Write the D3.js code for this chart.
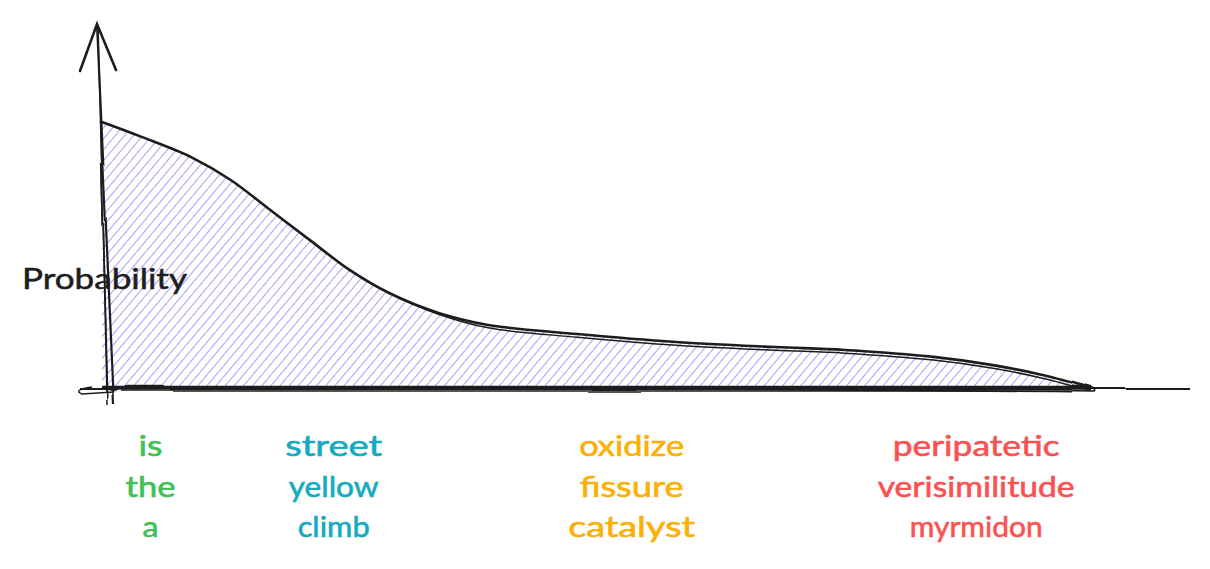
<!DOCTYPE html>
<html>
<head>
<meta charset="utf-8">
<script src="https://cdn.jsdelivr.net/npm/d3@7"></script>
<style>
  html, body { margin: 0; padding: 0; background: #ffffff; }
  svg { display: block; }
</style>
</head>
<body>
<script>
// word rank (0..100) and probability along the curve
var ranks = [0, 4, 9, 13, 17, 21, 25, 29, 34, 39, 48, 58, 68, 75, 84, 90, 95, 100];
var probs = [1.0, 0.944, 0.868, 0.782, 0.669, 0.556, 0.444, 0.357, 0.282, 0.237, 0.203, 0.173, 0.154, 0.143, 0.117, 0.086, 0.049, 0.0];

// word groups under the axis
var groupRanks = [4.9, 23.4, 53.5, 88.3];
var groupColors = ['#40c057', '#15aabf', '#fab005', '#fa5252'];
var groupWords = [
    ['is', 'the', 'a'],
    ['street', 'yellow', 'climb'],
    ['oxidize', 'fissure', 'catalyst'],
    ['peripatetic', 'verisimilitude', 'myrmidon']
];
var wordWidths = [
    [24, 50, 16],
    [97, 90, 72],
    [105, 104, 127],
    [167, 197, 133]
];
var yLabel = 'Probability';

var width = 1210;
var height = 569;
var ink = '#1e1e1e';

var svg = d3.select('body').append('svg')
    .attr('width', width)
    .attr('height', height);

var x = d3.scaleLinear().domain([0, 100]).range([102, 1092]);
var y = d3.scaleLinear().domain([0, 1]).range([388, 122]);

var points = ranks.map(function (r, i) { return { r: r, p: probs[i] }; });

// hatch pattern
var defs = svg.append('defs');
var pat = defs.append('pattern')
    .attr('id', 'hatch')
    .attr('patternUnits', 'userSpaceOnUse')
    .attr('width', 7)
    .attr('height', 7)
    .attr('patternTransform', 'rotate(40)');
pat.append('line')
    .attr('x1', 0).attr('y1', 0).attr('x2', 0).attr('y2', 7)
    .attr('stroke', '#9c8ef4')
    .attr('stroke-width', 1.7);

var rough = defs.append('filter').attr('id', 'rough')
    .attr('x', '-5%').attr('y', '-5%').attr('width', '110%').attr('height', '110%');
rough.append('feTurbulence').attr('type', 'fractalNoise').attr('baseFrequency', 0.006).attr('numOctaves', 1).attr('seed', 3).attr('result', 'n');
rough.append('feDisplacementMap').attr('in', 'SourceGraphic').attr('in2', 'n').attr('scale', 3);

// filled area
var area = d3.area()
    .x(function (d) { return x(d.r); })
    .y0(y(0))
    .y1(function (d) { return y(d.p); })
    .curve(d3.curveCatmullRom);

svg.append('path')
    .datum(points)
    .attr('d', area)
    .attr('fill', 'url(#hatch)');

var g = svg.append('g').attr('filter', 'url(#rough)');

// top curve, two strokes
var line = d3.line()
    .x(function (d) { return x(d.r); })
    .y(function (d) { return y(d.p); })
    .curve(d3.curveCatmullRom);

g.append('path')
    .datum(points)
    .attr('d', line)
    .attr('fill', 'none')
    .attr('stroke', ink)
    .attr('stroke-width', 2.6);

var line2 = d3.line()
    .x(function (d) { return x(d.r); })
    .y(function (d) { return y(d.p) + (d.r > 30 ? 3.2 * Math.min(1, (d.r - 30) / 10) : 0); })
    .curve(d3.curveCatmullRom);

g.append('path')
    .datum(points.slice(6))
    .attr('d', line2)
    .attr('fill', 'none')
    .attr('stroke', ink)
    .attr('stroke-width', 1.5);

// bottom of the shape and its right tip
g.append('path')
    .attr('d', 'M' + x(0) + ',' + (y(0) - 1) + ' L' + x(100) + ',' + (y(0) - 1))
    .attr('stroke', ink).attr('stroke-width', 2.6).attr('fill', 'none');
g.append('path')
    .attr('d', 'M' + (x(0) + 8) + ',' + (y(0) + 2) + ' Q' + x(50) + ',' + (y(0) - 1) + ' ' + (x(100) + 3) + ',' + (y(0) + 4)
        + ' Q' + (x(100) + 6) + ',' + (y(0) + 1) + ' ' + (x(100) - 6) + ',' + (y(0) - 3))
    .attr('stroke', ink).attr('stroke-width', 1.7).attr('fill', 'none');

// left edge of the shape
g.append('path')
    .attr('d', 'M' + (x(0) - 1) + ',' + y(1) + ' L' + (x(0) + 5) + ',' + (y(0) + 4))
    .attr('stroke', ink).attr('stroke-width', 1.7).attr('fill', 'none');
g.append('path')
    .attr('d', 'M' + (x(0) - 2) + ',' + (y(1) - 1) + ' L' + (x(0) + 1) + ',' + (y(1) + 1))
    .attr('stroke', ink).attr('stroke-width', 2.4).attr('fill', 'none');

// x axis
g.append('path')
    .attr('d', 'M' + (x(0) - 22) + ',' + (y(0) + 1) + ' L1190,' + (y(0) + 1))
    .attr('stroke', ink).attr('stroke-width', 2.2).attr('fill', 'none');
g.append('path')
    .attr('d', 'M' + (x(0) - 10) + ',' + (y(0) - 1) + ' Q' + (x(0) - 30) + ',' + (y(0) + 2) + ' ' + (x(0) - 20) + ',' + (y(0) + 6)
        + ' L' + (x(0) + 12) + ',' + (y(0) + 4))
    .attr('stroke', ink).attr('stroke-width', 1.5).attr('fill', 'none');
g.append('path')
    .attr('d', 'M' + (x(0) + 20) + ',' + (y(0) + 3) + ' L' + x(100) + ',' + (y(0) + 3))
    .attr('stroke', ink).attr('stroke-width', 1.4).attr('fill', 'none');

// y axis with arrow
var tipX = 97, tipY = 24;
g.append('path')
    .attr('d', 'M' + tipX + ',' + tipY + ' L' + (x(0) + 12) + ',' + (y(0) + 17))
    .attr('stroke', ink).attr('stroke-width', 2.2).attr('fill', 'none');
g.append('path')
    .attr('d', 'M' + (tipX + 1) + ',' + (tipY + 2) + ' L' + (x(0) + 6) + ',' + (y(0) + 18))
    .attr('stroke', ink).attr('stroke-width', 1.5).attr('fill', 'none');
g.append('path')
    .attr('d', 'M80,71 L' + tipX + ',' + tipY + ' L116,70')
    .attr('stroke', ink).attr('stroke-width', 2.6).attr('fill', 'none').attr('stroke-linecap', 'round');

// y label
svg.append('text')
    .attr('x', 22)
    .attr('y', 289)
    .attr('textLength', 165)
    .attr('lengthAdjust', 'spacingAndGlyphs')
    .attr('font-family', 'Lato, sans-serif')
    .attr('font-size', 28)
    .attr('fill', ink)
    .attr('stroke', ink)
    .attr('stroke-width', 0.5)
    .text(yLabel);

// word groups
var baselines = [456, 497, 537];
groupWords.forEach(function (words, gi) {
    words.forEach(function (w, wi) {
        svg.append('text')
            .attr('x', x(groupRanks[gi]))
            .attr('y', baselines[wi])
            .attr('text-anchor', 'middle')
            .attr('textLength', wordWidths[gi][wi])
            .attr('lengthAdjust', 'spacingAndGlyphs')
            .attr('font-family', 'Lato, sans-serif')
            .attr('font-size', 29)
            .attr('fill', groupColors[gi])
            .attr('stroke', groupColors[gi])
            .attr('stroke-width', 0.6)
            .text(w);
    });
});
</script>
</body>
</html>
